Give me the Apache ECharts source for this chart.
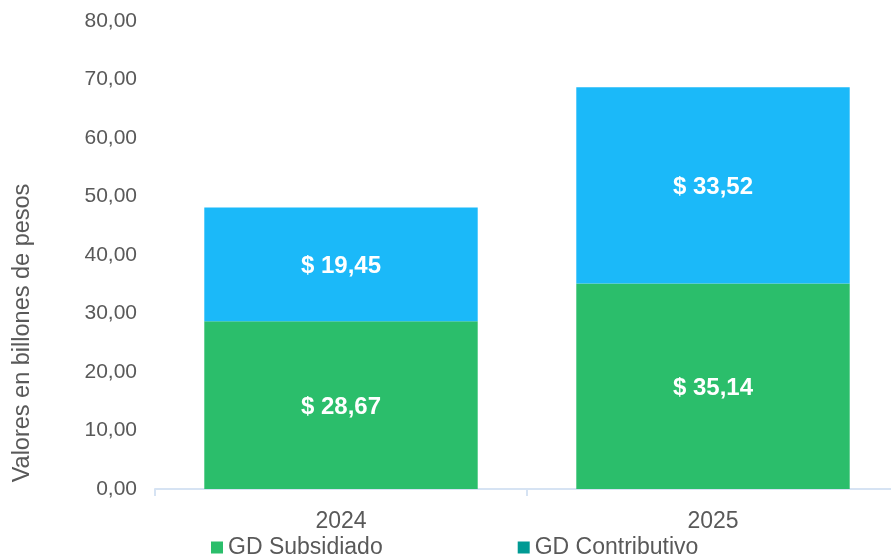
<!DOCTYPE html>
<html>
<head>
<meta charset="utf-8">
<script src="https://cdn.jsdelivr.net/npm/echarts@6/dist/echarts.min.js"></script>
<style>
  html, body { margin: 0; padding: 0; background: #fff; }
  #main { width: 891px; height: 554px; }
</style>
</head>
<body>
<div id="main"></div>
<script>
  var years = ["2024", "2025"];
  var subsidiado = [28.67, 35.14];
  var contributivo = [19.45, 33.52];
  var yTicks = [0, 10, 20, 30, 40, 50, 60, 70, 80];

  var fmt = function (v) {
    return v.toFixed(2).replace(".", ",");
  };

  var myChart = echarts.init(document.getElementById("main"));

  var labelStyle = {
    show: true,
    position: "inside",
    offset: [0, 2],
    color: "#fff",
    fontWeight: "bold",
    fontSize: 24,
    fontFamily: "Liberation Sans, Arial",
    formatter: function (p) {
      return "$ " + fmt(p.value);
    },
  };

  var option = {
    animation: false,
    grid: { left: 155, width: 744, top: 21, bottom: 65, outerBoundsMode: "none" },
    legend: {
      top: 531,
      left: 206,
      itemGap: 135,
      itemWidth: 12,
      itemHeight: 12,
      icon: "rect",
      textStyle: { color: "#595959", fontSize: 23, fontFamily: "Liberation Sans, Arial" },
      data: [
        { name: "GD Subsidiado", itemStyle: { color: "#2bbe6b" } },
        { name: "GD Contributivo", itemStyle: { color: "#009a94" } },
      ],
    },
    graphic: [
      {
        type: "text",
        x: 23,
        y: 333,
        rotation: Math.PI / 2,
        style: {
          text: "Valores en billones de pesos",
          fill: "#595959",
          fontSize: 23.5,
          fontFamily: "Liberation Sans, Arial",
          align: "center",
          verticalAlign: "middle",
        },
      },
    ],
    xAxis: {
      type: "category",
      data: years,
      axisLine: { lineStyle: { color: "#d6e3f3", width: 2 } },
      axisTick: { show: true, length: 7, lineStyle: { color: "#d6e3f3", width: 2 } },
      axisLabel: { color: "#595959", fontSize: 23, fontFamily: "Liberation Sans, Arial", margin: 21 },
    },
    yAxis: {
      type: "value",
      min: yTicks[0],
      max: yTicks[yTicks.length - 1],
      interval: 10,
      axisLine: { show: false },
      axisTick: { show: false },
      splitLine: { show: false },
      axisLabel: {
        color: "#595959",
        fontSize: 21,
        fontFamily: "Liberation Sans, Arial",
        margin: 18,
        formatter: fmt,
      },
    },
    series: [
      {
        name: "GD Subsidiado",
        type: "bar",
        stack: "total",
        barWidth: "73.5%",
        data: subsidiado,
        itemStyle: { color: "#2bbe6b" },
        label: labelStyle,
      },
      {
        name: "GD Contributivo",
        type: "bar",
        stack: "total",
        data: contributivo,
        itemStyle: { color: "#1bb9f9" },
        label: labelStyle,
      },
    ],
  };

  myChart.setOption(option);
</script>
</body>
</html>
